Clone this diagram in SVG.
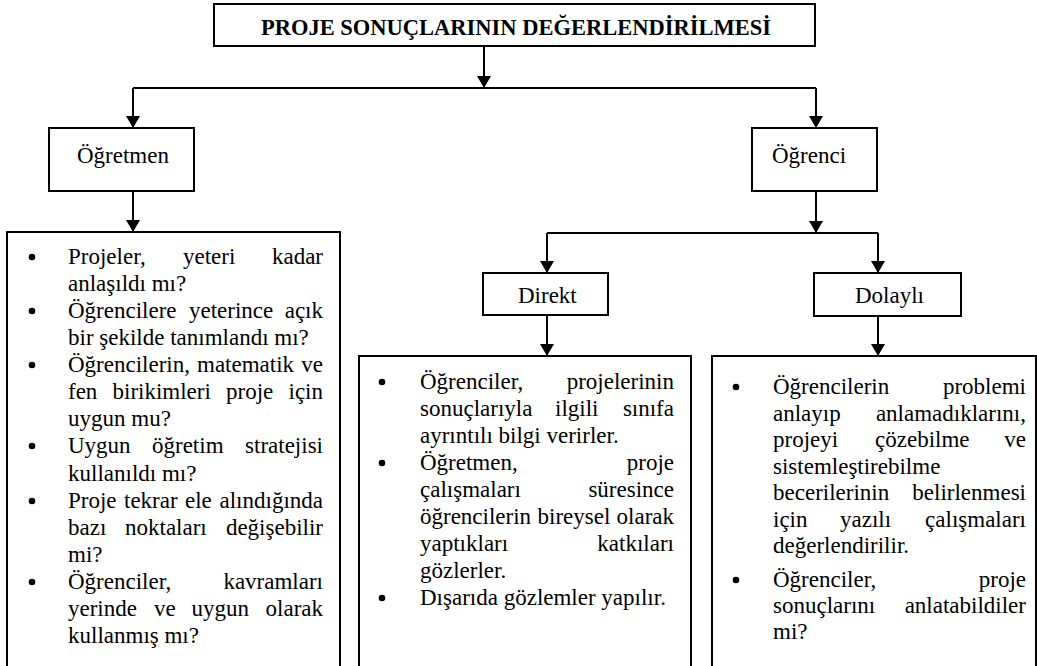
<svg xmlns="http://www.w3.org/2000/svg" width="1037" height="666" viewBox="0 0 1037 666">
<style>
.box{fill:#fff;stroke:#000;stroke-width:2}
.t{font-family:"Liberation Serif","Times New Roman",serif;font-size:23px;fill:#000}
.h{font-family:"Liberation Serif","Times New Roman",serif;font-size:22.5px;font-weight:bold;fill:#000}
.e{text-anchor:end}
.c{stroke:#000;stroke-width:2;fill:none}
.b{fill:#000}
</style>
<defs>
<marker id="ah" markerUnits="userSpaceOnUse" viewBox="0 0 12 14" refX="12" refY="7" markerWidth="12" markerHeight="14" orient="auto">
<path d="M0,0 L12,7 L0,14 z" fill="#000"/>
</marker>
</defs>
<rect width="1037" height="666" fill="#fff"/>
<g id="connectors">
<path class="c" d="M484,46 V88" marker-end="url(#ah)"/>
<path class="c" d="M133,88 H816"/>
<path class="c" d="M133,88 V128" marker-end="url(#ah)"/>
<path class="c" d="M816,88 V128" marker-end="url(#ah)"/>
<path class="c" d="M133,191 V232" marker-end="url(#ah)"/>
<path class="c" d="M816,191 V233" marker-end="url(#ah)"/>
<path class="c" d="M547,233 H878"/>
<path class="c" d="M547,233 V273" marker-end="url(#ah)"/>
<path class="c" d="M878,233 V273" marker-end="url(#ah)"/>
<path class="c" d="M547,315 V356" marker-end="url(#ah)"/>
<path class="c" d="M878,316 V356" marker-end="url(#ah)"/>
</g>
<g id="title">
<rect class="box" x="214" y="4" width="601" height="42"/>
<text class="h" x="516" y="35" text-anchor="middle">PROJE SONUÇLARININ DEĞERLENDİRİLMESİ</text>
</g>
<g id="ogretmen">
<rect class="box" x="49" y="128" width="145" height="63"/>
<text class="t" x="77" y="163">Öğretmen</text>
</g>
<g id="ogrenci">
<rect class="box" x="752" y="128" width="125" height="63"/>
<text class="t" x="772" y="163">Öğrenci</text>
</g>
<g id="direkt">
<rect class="box" x="483" y="273" width="125" height="42"/>
<text class="t" x="518" y="303">Direkt</text>
</g>
<g id="dolayli">
<rect class="box" x="814" y="273" width="147" height="43"/>
<text class="t" x="855" y="303">Dolaylı</text>
</g>
<g id="ogretmen-list">
<rect class="box" x="7" y="232" width="333" height="450"/>
<circle class="b" cx="32" cy="257" r="3.3"/>
<circle class="b" cx="32" cy="311" r="3.3"/>
<circle class="b" cx="32" cy="365" r="3.3"/>
<circle class="b" cx="32" cy="446" r="3.3"/>
<circle class="b" cx="32" cy="501" r="3.3"/>
<circle class="b" cx="32" cy="582" r="3.3"/>
<text class="t" x="68" y="264">Projeler,</text><text class="t" x="183" y="264">yeteri</text><text class="t e" x="323" y="264">kadar</text>
<text class="t" x="68" y="291">anlaşıldı mı?</text>
<text class="t" x="68" y="318">Öğrencilere</text><text class="t" x="189" y="318">yeterince</text><text class="t e" x="323" y="318">açık</text>
<text class="t" x="68" y="345">bir şekilde tanımlandı mı?</text>
<text class="t" x="68" y="372">Öğrencilerin,</text><text class="t" x="197" y="372">matematik</text><text class="t e" x="323" y="372">ve</text>
<text class="t" x="68" y="399">fen</text><text class="t" x="112.5" y="399">birikimleri</text><text class="t" x="226" y="399">proje</text><text class="t e" x="323" y="399">için</text>
<text class="t" x="68" y="426">uygun mu?</text>
<text class="t" x="68" y="453">Uygun</text><text class="t" x="152" y="453">öğretim</text><text class="t e" x="323" y="453">stratejisi</text>
<text class="t" x="68" y="481">kullanıldı mı?</text>
<text class="t" x="68" y="508">Proje</text><text class="t" x="124" y="508">tekrar</text><text class="t" x="185" y="508">ele</text><text class="t e" x="323" y="508">alındığında</text>
<text class="t" x="68" y="535">bazı</text><text class="t" x="125" y="535">noktaları</text><text class="t e" x="323" y="535">değişebilir</text>
<text class="t" x="68" y="562">mi?</text>
<text class="t" x="68" y="589">Öğrenciler,</text><text class="t e" x="323" y="589">kavramları</text>
<text class="t" x="68" y="616">yerinde</text><text class="t" x="154" y="616">ve</text><text class="t" x="191.5" y="616">uygun</text><text class="t e" x="323" y="616">olarak</text>
<text class="t" x="68" y="643">kullanmış mı?</text>
</g>
<g id="direkt-list">
<rect class="box" x="359" y="356" width="332" height="330"/>
<circle class="b" cx="382" cy="382" r="3.3"/>
<circle class="b" cx="382" cy="463" r="3.3"/>
<circle class="b" cx="382" cy="598" r="3.3"/>
<text class="t" x="420" y="389">Öğrenciler,</text><text class="t e" x="674" y="389">projelerinin</text>
<text class="t" x="420" y="416">sonuçlarıyla</text><text class="t" x="555" y="416">ilgili</text><text class="t e" x="674" y="416">sınıfa</text>
<text class="t" x="420" y="443">ayrıntılı bilgi verirler.</text>
<text class="t" x="420" y="470">Öğretmen,</text><text class="t e" x="674" y="470">proje</text>
<text class="t" x="420" y="497">çalışmaları</text><text class="t e" x="674" y="497">süresince</text>
<text class="t" x="420" y="524">öğrencilerin</text><text class="t" x="537.5" y="524">bireysel</text><text class="t e" x="674" y="524">olarak</text>
<text class="t" x="420" y="551">yaptıkları</text><text class="t e" x="674" y="551">katkıları</text>
<text class="t" x="420" y="578">gözlerler.</text>
<text class="t" x="420" y="605">Dışarıda gözlemler yapılır.</text>
</g>
<g id="dolayli-list">
<rect class="box" x="712" y="356" width="324" height="330"/>
<circle class="b" cx="736" cy="387" r="3.3"/>
<circle class="b" cx="736" cy="580" r="3.3"/>
<text class="t" x="773" y="394">Öğrencilerin</text><text class="t e" x="1026" y="394">problemi</text>
<text class="t" x="773" y="420.5">anlayıp</text><text class="t e" x="1026" y="420.5">anlamadıklarını,</text>
<text class="t" x="773" y="447">projeyi</text><text class="t" x="875" y="447">çözebilme</text><text class="t e" x="1026" y="447">ve</text>
<text class="t" x="773" y="473.5">sistemleştirebilme</text>
<text class="t" x="773" y="500">becerilerinin</text><text class="t e" x="1026" y="500">belirlenmesi</text>
<text class="t" x="773" y="526.5">için</text><text class="t" x="840" y="526.5">yazılı</text><text class="t e" x="1026" y="526.5">çalışmaları</text>
<text class="t" x="773" y="553">değerlendirilir.</text>
<text class="t" x="773" y="587">Öğrenciler,</text><text class="t e" x="1026" y="587">proje</text>
<text class="t" x="773" y="613">sonuçlarını</text><text class="t e" x="1026" y="613">anlatabildiler</text>
<text class="t" x="773" y="639">mi?</text>
</g>
</svg>
